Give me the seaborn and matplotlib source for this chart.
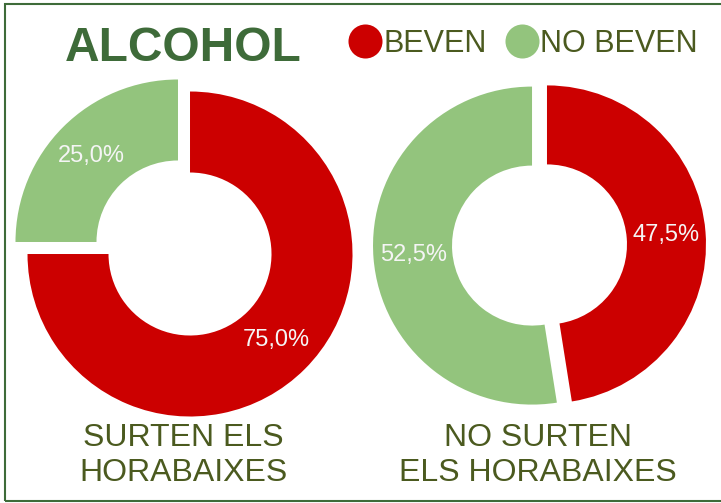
import matplotlib
matplotlib.use("Agg")
import matplotlib.pyplot as plt
from matplotlib.lines import Line2D
from matplotlib.patches import Rectangle
import seaborn as sns

# data
categories = ["BEVEN", "NO BEVEN"]
surten = [75.0, 25.0]
no_surten = [47.5, 52.5]
group_names = ["SURTEN ELS\nHORABAIXES", "NO SURTEN\nELS HORABAIXES"]

sns.set_theme(style="white")
plt.rcParams["font.family"] = ["Liberation Sans", "DejaVu Sans"]
colors = sns.color_palette(["#cc0000", "#93c47d"])

W, H = 721, 503
fig = plt.figure(figsize=(W / 100, H / 100), dpi=100)
ax = fig.add_axes([0, 0, 1, 1])

def pct(p):
    return f"{p:.1f}%".replace(".", ",")

# (center x, center y, radius, hole width, explode) in pixel units
layout = [(184, H - 248, 162.5, 81, 8.5), (539.5, H - 245, 159, 79, 7.5)]

for vals, (cx, cy, r, w, ex) in zip([surten, no_surten], layout):
    _, _, autotexts = ax.pie(vals, colors=colors, startangle=90, counterclock=False,
                             center=(cx, cy), radius=r, explode=[ex, ex],
                             autopct=pct, pctdistance=0.75,
                             wedgeprops=dict(width=w, linewidth=0))
    for t in autotexts:
        t.set_color("#f5f5f5")
        t.set_fontsize(17)

ax.set_xlim(0, W)
ax.set_ylim(0, H)
ax.set_aspect("auto")
ax.axis("off")

# title
ax.text(65, H - 61, "ALCOHOL", fontsize=34.5, fontweight="bold", color="#3e6b39",
        ha="left", va="baseline")

# legend
handles = [Line2D([], [], linestyle="none", marker="o", markersize=24.5,
                  markerfacecolor=c, markeredgewidth=0) for c in colors]
leg = ax.legend(handles, categories, loc="center left", ncol=2,
                bbox_to_anchor=(350 / W, (H - 44) / H), frameon=False,
                fontsize=22, handlelength=1.0, handletextpad=0.1,
                columnspacing=0.65, borderpad=0, borderaxespad=0)
for t in leg.get_texts():
    t.set_color("#4b5a1f")

# group labels under each donut
for name, x in zip(group_names, [183.5, 538]):
    ax.text(x, H - 423, name, fontsize=23, color="#4b5a1f", ha="center", va="top",
            multialignment="center", linespacing=1.22)

# frame
fig.patches.append(Rectangle((5 / W, 2 / H), 720 / W, 497 / H, transform=fig.transFigure,
                             fill=False, edgecolor="#3e6b39", linewidth=1.5))

fig.savefig("out.png", dpi=100)
